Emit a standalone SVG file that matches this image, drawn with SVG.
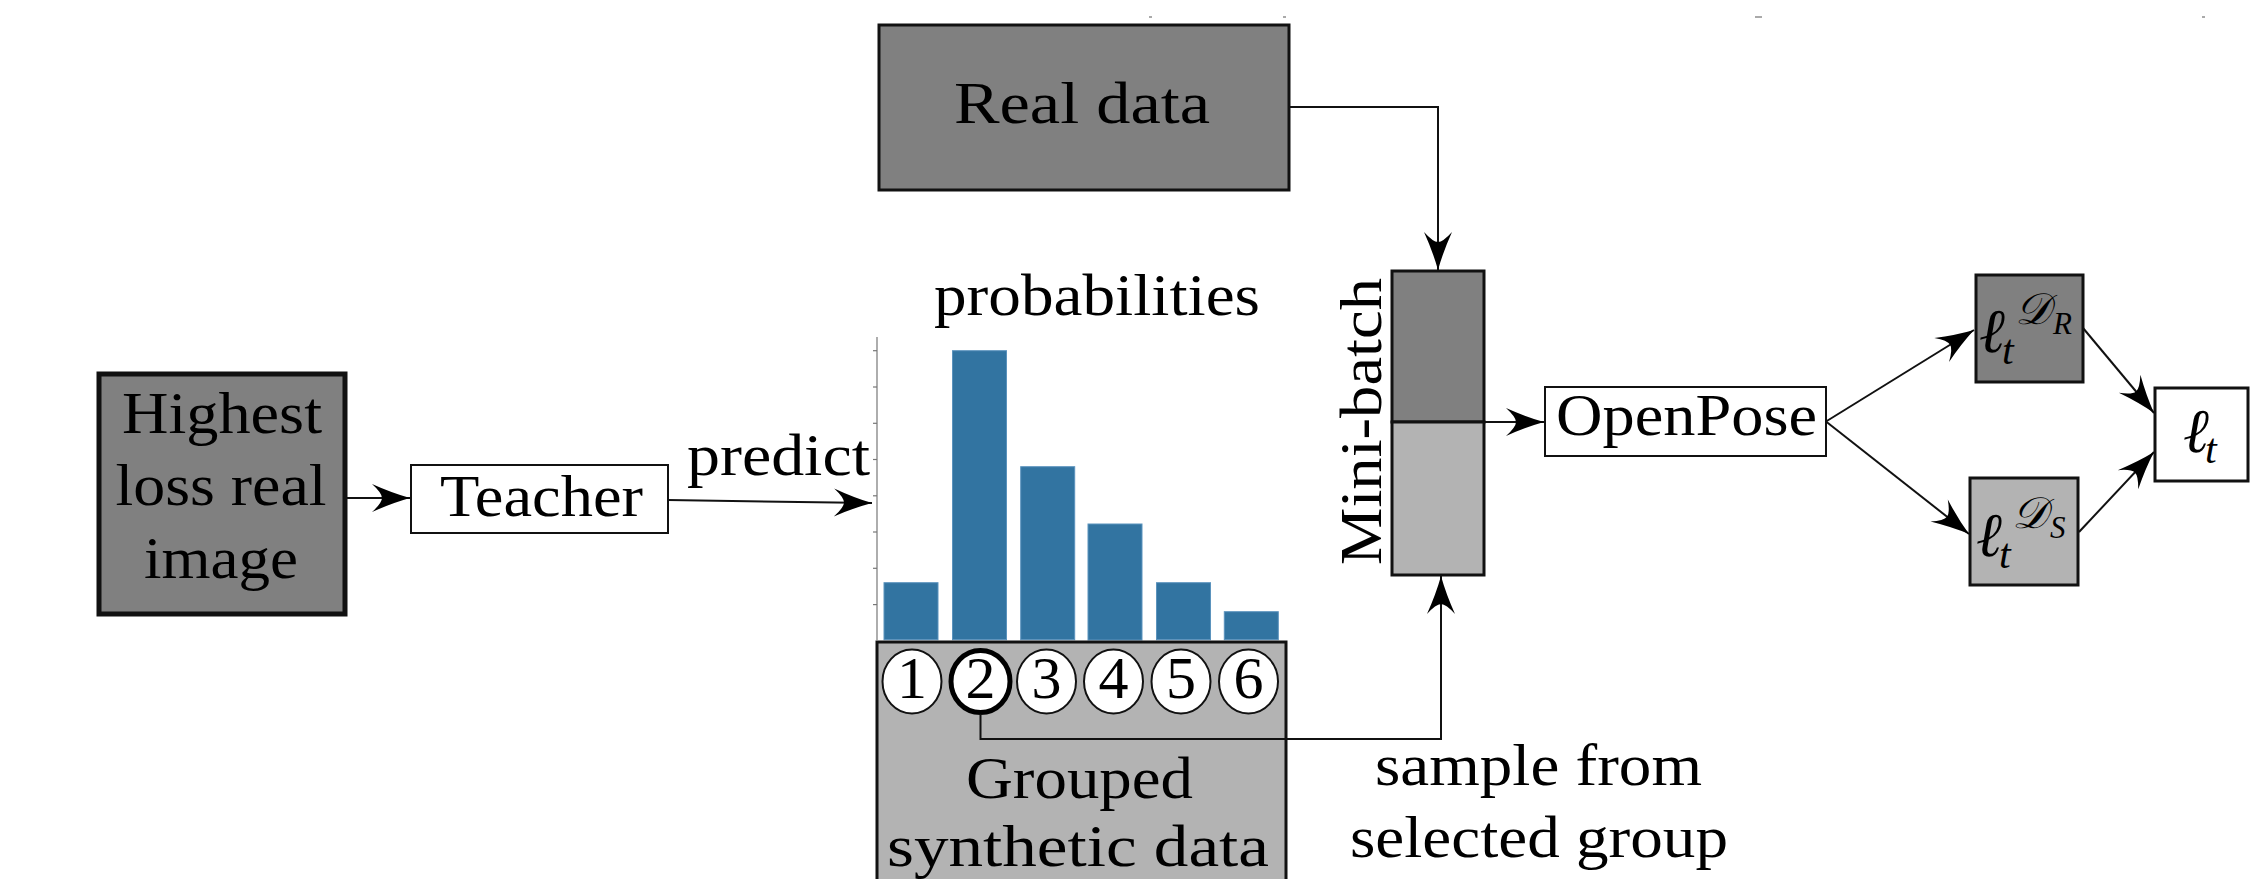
<svg xmlns="http://www.w3.org/2000/svg" width="2266" height="879" viewBox="0 0 2266 879">
<style>
text{font-family:"Liberation Serif","Times New Roman",serif;fill:#000;}
.lbl{font-size:60px;text-anchor:middle;}
.mi{font-style:italic;}
.box{stroke:#111;}
.wire{fill:none;stroke:#111;stroke-width:2;}
.bar{fill:#3274a1;stroke:#5b93bd;stroke-width:1;}
.tick{stroke:#777;stroke-width:1.2;}
.dot{fill:#aaa;}
</style>
<defs>
<marker id="arr" viewBox="-42 -17 44 34" refX="0" refY="0" markerWidth="44" markerHeight="34" markerUnits="userSpaceOnUse" orient="auto">
<path d="M0,0 Q-18,-5 -38,-14 Q-28,-5 -28,0 Q-28,5 -38,14 Q-18,5 0,0 Z" fill="#000"/>
</marker>
</defs>
<rect width="2266" height="879" fill="#fff"/>

<g id="top-marks">
<rect class="dot" x="1149" y="16" width="3" height="2"/>
<rect class="dot" x="1283" y="16" width="3" height="2"/>
<rect class="dot" x="1755" y="16" width="7" height="2"/>
<rect class="dot" x="2202" y="16" width="3" height="2"/>
</g>

<g id="highest">
<rect class="box" x="99" y="374" width="246" height="240" fill="#808080" stroke-width="5"/>
<text class="lbl" x="222" y="433" textLength="200" lengthAdjust="spacingAndGlyphs">Highest</text>
<text class="lbl" x="221" y="505" textLength="211" lengthAdjust="spacingAndGlyphs">loss real</text>
<text class="lbl" x="221" y="578" textLength="154" lengthAdjust="spacingAndGlyphs">image</text>
</g>

<g id="teacher">
<rect class="box" x="411" y="465" width="257" height="68" fill="#fff" stroke-width="2" stroke="#333"/>
<text class="lbl" x="541.5" y="516" textLength="203" lengthAdjust="spacingAndGlyphs">Teacher</text>
</g>

<g id="real-data">
<rect class="box" x="879" y="25" width="410" height="165" fill="#808080" stroke-width="3"/>
<text class="lbl" x="1082" y="123" textLength="256" lengthAdjust="spacingAndGlyphs">Real data</text>
</g>

<g id="probabilities-chart">
<text class="lbl" x="1097" y="315" textLength="326" lengthAdjust="spacingAndGlyphs">probabilities</text>
<line class="tick" x1="877" y1="337" x2="877" y2="640"/>
<line class="tick" x1="873" y1="350.7" x2="877" y2="350.7"/>
<line class="tick" x1="873" y1="387" x2="877" y2="387"/>
<line class="tick" x1="873" y1="423.3" x2="877" y2="423.3"/>
<line class="tick" x1="873" y1="459.5" x2="877" y2="459.5"/>
<line class="tick" x1="873" y1="495.8" x2="877" y2="495.8"/>
<line class="tick" x1="873" y1="532" x2="877" y2="532"/>
<line class="tick" x1="873" y1="568.3" x2="877" y2="568.3"/>
<line class="tick" x1="873" y1="604.6" x2="877" y2="604.6"/>
<rect class="bar" x="884" y="582.7" width="54" height="57"/>
<rect class="bar" x="952.5" y="350.7" width="54" height="289"/>
<rect class="bar" x="1020.7" y="466.7" width="54" height="173"/>
<rect class="bar" x="1088" y="524" width="54" height="116"/>
<rect class="bar" x="1156.5" y="582.7" width="54" height="57"/>
<rect class="bar" x="1224.3" y="611.7" width="54" height="28"/>
</g>

<g id="grouped-synthetic-data">
<rect class="box" x="877" y="642" width="409" height="260" fill="#b3b3b3" stroke-width="3"/>
<text class="lbl" x="1079.5" y="798" textLength="227" lengthAdjust="spacingAndGlyphs">Grouped</text>
<text class="lbl" x="1078" y="866" textLength="382" lengthAdjust="spacingAndGlyphs">synthetic data</text>
</g>

<g id="group-1">
<ellipse cx="912" cy="681.5" rx="29.5" ry="32" fill="#fff" stroke="#111" stroke-width="2"/>
<text class="lbl" x="912" y="698">1</text>
</g>
<g id="group-2">
<ellipse cx="980.5" cy="681.5" rx="29.5" ry="31" fill="#fff" stroke="#000" stroke-width="5"/>
<text class="lbl" x="980.5" y="698">2</text>
</g>
<g id="group-3">
<ellipse cx="1046.5" cy="681.5" rx="29.5" ry="32" fill="#fff" stroke="#111" stroke-width="2"/>
<text class="lbl" x="1046.5" y="698">3</text>
</g>
<g id="group-4">
<ellipse cx="1113.5" cy="681.5" rx="29.5" ry="32" fill="#fff" stroke="#111" stroke-width="2"/>
<text class="lbl" x="1113.5" y="698">4</text>
</g>
<g id="group-5">
<ellipse cx="1181" cy="681.5" rx="29.5" ry="32" fill="#fff" stroke="#111" stroke-width="2"/>
<text class="lbl" x="1181" y="698">5</text>
</g>
<g id="group-6">
<ellipse cx="1248.5" cy="681.5" rx="29.5" ry="32" fill="#fff" stroke="#111" stroke-width="2"/>
<text class="lbl" x="1248.5" y="698">6</text>
</g>

<g id="mini-batch">
<rect class="box" x="1392" y="271" width="92" height="151" fill="#808080" stroke-width="3"/>
<rect class="box" x="1392" y="422" width="92" height="153" fill="#b3b3b3" stroke-width="3"/>
<text class="lbl" transform="translate(1381,421.5) rotate(-90)" x="0" y="0" textLength="287" lengthAdjust="spacingAndGlyphs">Mini-batch</text>
</g>

<g id="openpose">
<rect class="box" x="1545" y="387" width="281" height="69" fill="#fff" stroke-width="2" stroke="#333"/>
<text class="lbl" x="1686.5" y="435" textLength="261" lengthAdjust="spacingAndGlyphs">OpenPose</text>
</g>

<g id="loss-real">
<rect class="box" x="1976" y="275" width="107" height="107" fill="#808080" stroke-width="3"/>
<text class="mi"><tspan x="1979" y="352" font-size="62">ℓ</tspan><tspan x="2002" y="364" font-size="42">t</tspan><tspan x="2015" y="324" font-size="44">𝒟</tspan><tspan x="2053" y="334" font-size="31">R</tspan></text>
</g>

<g id="loss-synthetic">
<rect class="box" x="1970" y="478" width="108" height="107" fill="#b3b3b3" stroke-width="3"/>
<text class="mi"><tspan x="1976" y="556" font-size="62">ℓ</tspan><tspan x="1999" y="568" font-size="42">t</tspan><tspan x="2012" y="528" font-size="44">𝒟</tspan><tspan x="2050" y="538" font-size="31">S</tspan></text>
</g>

<g id="loss-total">
<rect class="box" x="2155" y="388" width="93" height="93" fill="#fff" stroke-width="3"/>
<text class="mi"><tspan x="2183" y="452" font-size="62">ℓ</tspan><tspan x="2205" y="463" font-size="42">t</tspan></text>
</g>

<g id="predict-label">
<text class="lbl" x="778.5" y="475" textLength="183" lengthAdjust="spacingAndGlyphs">predict</text>
</g>

<g id="sample-label">
<text class="lbl" x="1538.5" y="785" textLength="327" lengthAdjust="spacingAndGlyphs">sample from</text>
<text class="lbl" x="1539" y="857" textLength="378" lengthAdjust="spacingAndGlyphs">selected group</text>
</g>

<g id="connectors">
<path class="wire" d="M347,498 H410" marker-end="url(#arr)"/>
<path class="wire" d="M668,500 L872,503" marker-end="url(#arr)"/>
<path class="wire" d="M1289,107 H1438 V270" marker-end="url(#arr)"/>
<path class="wire" d="M980.5,714 V739 H1441 V576" marker-end="url(#arr)"/>
<path class="wire" d="M1484,422 H1544" marker-end="url(#arr)"/>
<path class="wire" d="M1826,421.5 L1974,330" marker-end="url(#arr)"/>
<path class="wire" d="M1826,421.5 L1969,534" marker-end="url(#arr)"/>
<path class="wire" d="M2083,328 L2154,413" marker-end="url(#arr)"/>
<path class="wire" d="M2079,532 L2154,452" marker-end="url(#arr)"/>
</g>
</svg>
